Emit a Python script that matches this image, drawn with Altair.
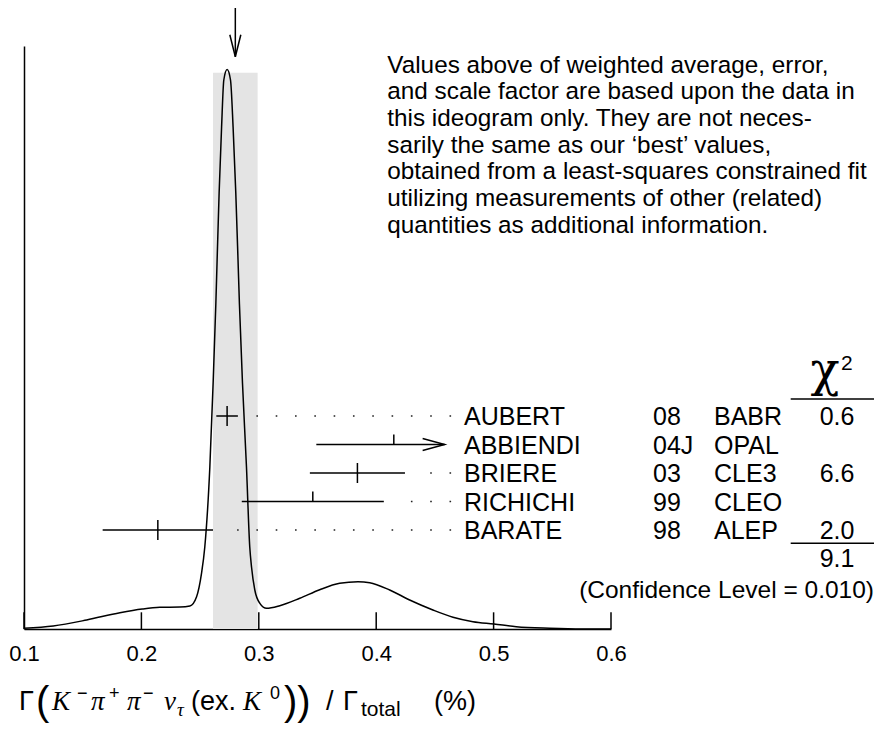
import math
import altair as alt
import pandas as pd

# ---------------- data ----------------
names = ["AUBERT", "ABBIENDI", "BRIERE", "RICHICHI", "BARATE"]
codes = ["08", "04J", "03", "99", "98"]
exps = ["BABR", "OPAL", "CLE3", "CLEO", "ALEP"]
values = [0.273, 0.415, 0.384, 0.346, 0.214]
errors = [0.0092, 0.066, 0.0405, 0.0605, 0.047]
chi2 = ["0.6", "", "6.6", "", "2.0"]
chi2_total = "9.1"
conf_text = "(Confidence Level = 0.010)"
avg = 0.280
avg_err = 0.019

# ideogram curve (x in %, height in arbitrary units)
curve_x = [0.1000, 0.1249, 0.1534, 0.1817, 0.2007, 0.2157, 0.2328, 0.2413, 0.2470, 0.2512, 0.2540,
           0.2583, 0.2611, 0.2634, 0.2645, 0.2662, 0.2683, 0.2702, 0.2730, 0.2759, 0.2781, 0.2804,
           0.2823, 0.2835, 0.2861, 0.2895, 0.2923, 0.2938, 0.2966, 0.3009, 0.3066, 0.3179, 0.3349,
           0.3519, 0.3689, 0.3845, 0.3945, 0.4115, 0.4285, 0.4483, 0.4654, 0.4824, 0.5003, 0.5193,
           0.5477, 0.5757, 0.6000]
curve_y = [0.7, 3, 9, 16.3, 20, 21.7, 22, 23, 32.3, 55.7, 82,
           162, 246, 325, 369, 436, 502, 549, 559.5, 549, 502, 436,
           369, 325, 246, 162, 82, 62, 39, 25.7, 20.7, 23.3, 30.7,
           39.3, 45.7, 47.3, 46.3, 39, 29, 19, 11.7, 7.3, 5, 2.3,
           0.7, 0, 0]

x_ticks = [0.1, 0.2, 0.3, 0.4, 0.5, 0.6]

paragraph = ("Values above of weighted average, error,\n"
             "and scale factor are based upon the data in\n"
             "this ideogram only.  They are not neces-\n"
             "sarily the same as our \u2018best\u2019 values,\n"
             "obtained from a least-squares constrained fit\n"
             "utilizing measurements of other (related)\n"
             "quantities as additional information.")

# ---------------- layout constants ----------------
W, H = 587, 583
FONT = "Liberation Sans"
SERIF = "Liberation Serif"
FS = 25
XCUT = 0.4583        # error bars are cut here (arrow)
DOT0, DOT_STEP, DOT_END, GAP = 0.2815, 0.01645, 0.4625, 0.0085
RIGHT = 850          # right edge of the drawing, in view pixels

df = pd.DataFrame({"name": names, "code": codes, "exp": exps,
                   "value": values, "err": errors, "chi2": chi2})
df["lo"] = df["value"] - df["err"]
df["hi"] = (df["value"] + df["err"]).clip(upper=XCUT)
df["cut"] = (df["value"] + df["err"]) > XCUT
df["used"] = df["chi2"] != ""
df["lead_start"] = [DOT0 + DOT_STEP * max(0, math.ceil((h + GAP - DOT0) / DOT_STEP)) for h in df["hi"]]
df["lead_end"] = DOT_END + 1.6 / 1174

leaders = df[df["lead_start"] < df["lead_end"]]
cut = df[df["cut"]]
full = df[df["used"]]
half = df[~df["used"]]

curve = pd.DataFrame({"x": curve_x, "y": curve_y})
ticks = pd.DataFrame({"t": x_ticks})
avgdf = pd.DataFrame({"avg": [avg], "lo": [avg - avg_err], "hi": [avg + avg_err]})
one = pd.DataFrame({"a": [0]})

xscale = alt.Scale(domain=[0.1, 0.6], nice=False, zero=False)
xaxis = alt.Axis(values=x_ticks, format=".1f", ticks=False, labelFontSize=22, labelFont=FONT,
                 labelColor="black", labelPadding=14, domainColor="black", domainWidth=1.5,
                 grid=False, title=None, labelFlush=False, labelOverlap=False)
rowY = alt.Y("name:N", scale=alt.Scale(type="point", domain=names, range=[370, 484], padding=0), axis=None)


def X(field):
    return alt.X(field, type="quantitative", scale=xscale, axis=xaxis)


band = alt.Chart(avgdf).mark_rect(color="#e4e4e4").encode(
    x=X("lo"), x2="hi", y=alt.value(26.7), y2=alt.value(H))

line = alt.Chart(curve).mark_line(color="black", strokeWidth=1.5, interpolate="monotone").encode(
    x=X("x"),
    y=alt.Y("y:Q", scale=alt.Scale(domain=[0, H], nice=False),
            axis=alt.Axis(labels=False, ticks=False, title=None, grid=False,
                          domainColor="black", domainWidth=1.5)))

tick_rules = alt.Chart(ticks).mark_rule(color="black", strokeWidth=1.5).encode(
    x=X("t"), y=alt.value(H - 16.7), y2=alt.value(H))

arrow_shaft = alt.Chart(avgdf).mark_rule(color="black", strokeWidth=1.5).encode(
    x=X("avg"), y=alt.value(-45), y2=alt.value(10.7))
arrow_head = alt.Chart(avgdf).mark_point(
    shape="M -0.5 -2 L 0 0 L 0.5 -2", size=484, filled=False, color="black",
    strokeWidth=1.5, opacity=1).encode(x=X("avg"), y=alt.value(10.7))

bars = alt.Chart(df).mark_rule(color="black", strokeWidth=1.5).encode(
    x=X("lo"), x2="hi", y=rowY)
full_ticks = alt.Chart(full).mark_tick(orient="vertical", size=20, thickness=1.5, color="black",
                                       opacity=1).encode(x=X("value"), y=rowY)
half_ticks = alt.Chart(half).mark_tick(orient="vertical", size=10, thickness=1.5, color="black",
                                       opacity=1, yOffset=-5).encode(x=X("value"), y=rowY)
cut_heads = alt.Chart(cut).mark_point(
    shape="M -2 -0.55 L 0 0 L -2 0.55", size=484, filled=False, color="black",
    strokeWidth=1.5, opacity=1).encode(x=X("hi"), y=rowY)
dots = alt.Chart(leaders).mark_rule(color="#222", strokeWidth=1.6, strokeDash=[1.6, DOT_STEP * 1174 - 1.6],
                                    strokeCap="butt").encode(x=X("lead_start"), x2="lead_end", y=rowY)


def col(field, xpix, align="left"):
    return alt.Chart(df).mark_text(font=FONT, fontSize=FS, align=align, baseline="alphabetic",
                                   dy=9, color="black").encode(
        x=alt.value(xpix), y=rowY, text=f"{field}:N")


t_name = col("name", 440)
t_code = col("code", 629)
t_exp = col("exp", 690)
t_chi = col("chi2", 813, "center")


def txt(s, x, y, size=FS, font=FONT, align="left", style="normal"):
    return alt.Chart(one).mark_text(font=font, fontSize=size, align=align, baseline="alphabetic",
                                    color="black", fontStyle=style, lineBreak="\n",
                                    lineHeight=26.67).encode(
        x=alt.value(x), y=alt.value(y), text=alt.value(s))


def hrule(x1, x2, y):
    return alt.Chart(one).mark_rule(color="black", strokeWidth=1.5).encode(
        x=alt.value(x1), x2=alt.value(x2), y=alt.value(y))


para = txt(paragraph, 363.3, 26.7, size=24.3)
chi_head = txt("\u03c7", 801, 340, size=48, font="DejaVu Serif", align="center")
chi_sup = txt("2", 817, 324, size=21)
chi_rule = hrule(766.7, RIGHT, 353)
sum_rule = hrule(766.7, RIGHT, 497.3)
chi_tot = txt(chi2_total, 813, 521, align="center")
conf = txt(conf_text, RIGHT, 552, size=24.5, align="right")

# axis title, built from pieces (page-x, baseline shift, size, style)
TB = 664
title_pieces = [
    ("\u0393", 19, 0, 27, "sans"), ("(", 36, 5, 40, "sans"),
    ("K", 52, 0, 27, "ital"), ("\u2212", 77, -11, 18, "sans"),
    ("\u03c0", 91, 0, 27, "ital"), ("+", 109, -11, 18, "sans"),
    ("\u03c0", 127, 0, 27, "ital"), ("\u2212", 143, -11, 18, "sans"),
    ("\u03bd", 164, 0, 27, "ital"), ("\u03c4", 177, 6, 19, "ital"),
    ("(ex.", 191, 0, 27, "sans"), ("K", 243, 0, 27, "ital"), ("0", 270, -11, 18, "sans"),
    ("))", 284, 5, 40, "sans"), ("/", 326, 0, 27, "sans"), ("\u0393", 343, 0, 27, "sans"),
    ("total", 361, 6, 21, "sans"), ("(%)", 434, 0, 27, "sans"),
]
title_layers = []
for s, xp, dy, size, kind in title_pieces:
    if kind == "ital":
        title_layers.append(txt(s, xp - 24, TB + dy, size=size, font=SERIF, style="italic"))
    else:
        title_layers.append(txt(s, xp - 24, TB + dy, size=size))

chart = alt.layer(
    band, line, tick_rules, arrow_shaft, arrow_head,
    bars, full_ticks, half_ticks, cut_heads, dots,
    t_name, t_code, t_exp, t_chi,
    para, chi_head, chi_sup, chi_rule, sum_rule, chi_tot, conf,
    *title_layers,
).resolve_scale(y="independent").properties(
    width=W, height=H,
    padding={"left": 16, "top": 38, "right": 264, "bottom": 94},
    autosize=alt.AutoSizeParams(type="none"),
).configure_view(stroke=None)

chart.save("out.html", embed_options={"renderer": "svg", "actions": False})
